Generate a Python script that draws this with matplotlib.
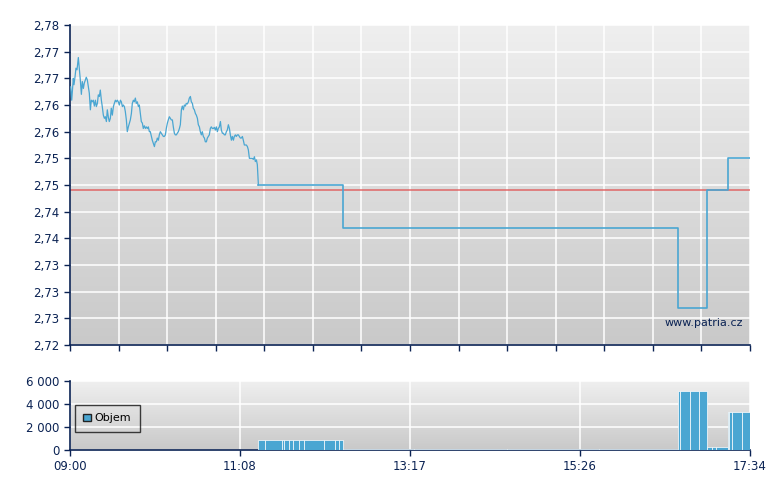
import numpy as np
import matplotlib
matplotlib.use("Agg")
import matplotlib.pyplot as plt
from matplotlib.patches import Patch

# minutes after 09:00 and price (intraday, noisy morning part)
t_morning = [0.5, 1.3, 2.0, 2.5, 3.0, 3.8, 4.5, 5.3, 6.3, 7.1, 7.8, 8.6, 9.3, 10.1, 10.8,
             11.6, 12.3, 13.1, 13.9, 14.6, 15.4, 16.1, 16.9, 17.6, 18.4, 19.2, 19.9, 20.7,
             21.4, 22.2, 22.9, 23.7, 24.4, 25.2, 26.0, 26.7, 27.5, 28.2, 29.0, 29.7, 30.5,
             31.2, 32.0, 32.8, 33.5, 34.3, 35.0, 35.8, 36.5, 37.3, 38.1, 38.8, 39.6, 40.3,
             41.1, 41.8, 42.6, 43.3, 44.1, 44.9, 45.6, 46.4, 47.1, 47.9, 48.6, 49.4, 50.1,
             50.9, 51.7, 52.4, 53.2, 53.9, 54.7, 55.4, 56.2, 57.0, 57.7, 58.5, 59.2, 60.0,
             60.7, 61.5, 62.2, 63.0, 63.8, 64.5, 65.3, 66.0, 66.8, 67.5, 68.3, 69.0, 69.8,
             70.6, 71.3, 72.1, 72.8, 73.6, 74.3, 75.1, 75.9, 76.6, 77.4, 78.1, 78.9, 79.6,
             80.4, 81.1, 81.9, 82.7, 83.4, 84.2, 84.9, 85.7, 86.4, 87.2, 87.9, 88.7, 89.5,
             90.2, 91.0, 91.7, 92.5, 93.2, 94.0, 94.8, 95.5, 96.3, 97.0, 97.8, 98.5, 99.3,
             100.0, 100.8, 101.6, 102.3, 103.1, 103.8, 104.6, 105.3, 106.1, 106.8, 107.6,
             108.4, 109.1, 109.9, 110.6, 111.4, 112.1, 112.9, 113.7, 114.4, 115.2, 115.9,
             116.7, 117.4, 118.2, 118.9, 119.7, 120.5, 121.2, 122.0, 122.7, 123.5, 124.2,
             125.0, 125.7, 126.5, 127.3, 128.0, 128.8, 129.5, 130.3, 131.0, 131.8, 132.6,
             133.3, 134.1, 134.8, 135.6, 136.3, 137.1, 137.8, 138.6, 139.4, 140.1, 140.9,
             141.6, 142.4]
p_morning = [2.7684, 2.7659, 2.7684, 2.7700, 2.7688, 2.7703, 2.7719, 2.7716, 2.7739, 2.7716,
             2.7697, 2.7670, 2.7694, 2.7681, 2.7691, 2.7697, 2.7702, 2.7697, 2.7684, 2.7672,
             2.7641, 2.7659, 2.7656, 2.7659, 2.7648, 2.7659, 2.7647, 2.7653, 2.7669, 2.7666,
             2.7678, 2.7659, 2.7647, 2.7631, 2.7625, 2.7628, 2.7619, 2.7641, 2.7627, 2.7619,
             2.7625, 2.7644, 2.7631, 2.7647, 2.7653, 2.7659, 2.7656, 2.7659, 2.7656, 2.7650,
             2.7659, 2.7656, 2.7647, 2.7650, 2.7647, 2.7638, 2.7622, 2.7600, 2.7609, 2.7616,
             2.7622, 2.7634, 2.7653, 2.7659, 2.7656, 2.7663, 2.7653, 2.7656, 2.7647, 2.7650,
             2.7634, 2.7619, 2.7616, 2.7606, 2.7611, 2.7606, 2.7609, 2.7606, 2.7609, 2.7600,
             2.7600, 2.7591, 2.7584, 2.7578, 2.7572, 2.7581, 2.7581, 2.7588, 2.7584, 2.7594,
             2.7600, 2.7597, 2.7594, 2.7591, 2.7591, 2.7594, 2.7606, 2.7616, 2.7622, 2.7628,
             2.7625, 2.7622, 2.7622, 2.7609, 2.7597, 2.7594, 2.7594, 2.7597, 2.7600, 2.7606,
             2.7613, 2.7641, 2.7648, 2.7641, 2.7650, 2.7648, 2.7653, 2.7652, 2.7656, 2.7663,
             2.7666, 2.7656, 2.7653, 2.7644, 2.7641, 2.7634, 2.7631, 2.7625, 2.7613, 2.7609,
             2.7600, 2.7594, 2.7600, 2.7591, 2.7588, 2.7581, 2.7581, 2.7588, 2.7591, 2.7594,
             2.7606, 2.7609, 2.7606, 2.7606, 2.7608, 2.7603, 2.7609, 2.7600, 2.7606, 2.7609,
             2.7619, 2.7603, 2.7597, 2.7597, 2.7594, 2.7594, 2.7600, 2.7603, 2.7613, 2.7606,
             2.7594, 2.7584, 2.7591, 2.7584, 2.7591, 2.7594, 2.7591, 2.7594, 2.7594, 2.7591,
             2.7588, 2.7588, 2.7591, 2.7584, 2.7575, 2.7575, 2.7575, 2.7572, 2.7566, 2.7550,
             2.7550, 2.7550, 2.7550, 2.7548, 2.7553, 2.7544, 2.7547, 2.7538, 2.7500]

# afternoon: flat steps
t_steps = [142.4, 206.1, 459.8, 481.7, 497.6, 514.0]
p_steps = [2.750, 2.742, 2.727, 2.749, 2.755, 2.755]

prev_close = 2.749

# volume segments (start minute, end minute, volume)
vol_start = [142.1, 147.4, 160.0, 162.0, 165.8, 168.3, 173.3, 176.9, 192.2, 200.3, 203.6,
             206.1, 260.0, 330.0, 400.0,
             459.8, 460.8, 469.0, 475.2,
             481.7, 485.3, 488.5,
             497.6, 498.4, 500.2, 507.7]
vol_end = [147.4, 160.0, 162.0, 165.8, 168.3, 173.3, 176.9, 192.2, 200.3, 203.6, 206.1,
           260.0, 330.0, 400.0, 459.8,
           460.8, 469.0, 475.2, 481.7,
           485.3, 488.5, 497.6,
           498.4, 500.2, 507.7, 514.0]
vol_val = [880, 880, 880, 880, 880, 880, 880, 880, 880, 880, 880,
           70, 70, 70, 70,
           5100, 5100, 5100, 5100,
           290, 290, 290,
           3300, 3300, 3300, 3300]

price_ticks = [2.72, 2.725, 2.73, 2.735, 2.74, 2.745, 2.75, 2.755, 2.76, 2.765, 2.77, 2.775, 2.78]
price_labels = ["2,72", "2,73", "2,73", "2,73", "2,74", "2,74", "2,75", "2,75", "2,76",
                "2,76", "2,77", "2,77", "2,78"]
time_ticks = [0, 128.5, 257, 385.5, 514]
time_labels = ["09:00", "11:08", "13:17", "15:26", "17:34"]
vol_ticks = [0, 2000, 4000, 6000]
vol_labels = ["0", "2 000", "4 000", "6 000"]

navy = "#0b2354"
blue = "#4aa6d2"

plt.rcParams['font.family'] = 'DejaVu Sans'
fig = plt.figure(figsize=(7.8, 4.9), dpi=100)
ax = fig.add_axes([70/780, 1-345/490, 680/780, 320/490])
axv = fig.add_axes([70/780, 1-450/490, 680/780, 69/490])

grad = np.linspace(0, 1, 256).reshape(-1, 1)
for a in (ax, axv):
    a.imshow(grad, cmap=matplotlib.colors.LinearSegmentedColormap.from_list(
        "bg", ["#efefef", "#c9c9c9"]), aspect="auto", extent=[0, 1, 0, 1],
        transform=a.transAxes, zorder=0)
    a.spines['top'].set_visible(False)
    a.spines['right'].set_visible(False)
    a.spines['left'].set_color(navy)
    a.spines['bottom'].set_color(navy)
    a.spines['left'].set_linewidth(1.2)
    a.spines['bottom'].set_linewidth(1.2)
    a.tick_params(colors=navy, labelcolor=navy, length=4, width=1, labelsize=8.5)
    a.set_xlim(0, 514)

# price chart
ax.set_ylim(2.72, 2.78)
ax.set_yticks(price_ticks)
ax.set_yticklabels(price_labels)
ax.set_xticks(np.linspace(0, 514, 15))
ax.set_xticklabels([])
ax.grid(True, color="white", linewidth=1.1, zorder=1)
for gl in ax.get_xgridlines() + ax.get_ygridlines():
    gl.set_zorder(1)
ax.plot(t_morning, p_morning, color=blue, linewidth=0.9, zorder=3)
ax.plot(t_steps, p_steps, color=blue, linewidth=1.2, drawstyle="steps-post", zorder=3)
ax.axhline(prev_close, color="#e05a5a", linewidth=1.1, alpha=0.9, zorder=2)
ax.text(0.99, 0.069, "www.patria.cz", transform=ax.transAxes, ha="right", va="center",
        color=navy, fontsize=8, zorder=4)

# volume chart
axv.set_ylim(0, 6000)
axv.set_yticks(vol_ticks)
axv.set_yticklabels(vol_labels)
axv.set_xticks(time_ticks)
axv.set_xticklabels(time_labels)
axv.grid(True, color="white", linewidth=1.1)
for gl in axv.get_xgridlines() + axv.get_ygridlines():
    gl.set_zorder(1)
widths = [e - s for s, e in zip(vol_start, vol_end)]
axv.bar(vol_start, vol_val, width=widths, align="edge", color=blue,
        edgecolor="white", linewidth=0.5, zorder=3)
leg = axv.legend(handles=[Patch(facecolor=blue, edgecolor="#222222", label="Objem")],
                 loc="upper left", bbox_to_anchor=(0.007, 0.65), borderaxespad=0,
                 frameon=True, fancybox=False, fontsize=8, handlelength=0.7,
                 handleheight=0.7, borderpad=0.75, handletextpad=0.35)
leg.get_frame().set_edgecolor("#111111")
leg.get_frame().set_facecolor("none")
leg.get_frame().set_linewidth(1)

fig.savefig("out.png", dpi=100)
